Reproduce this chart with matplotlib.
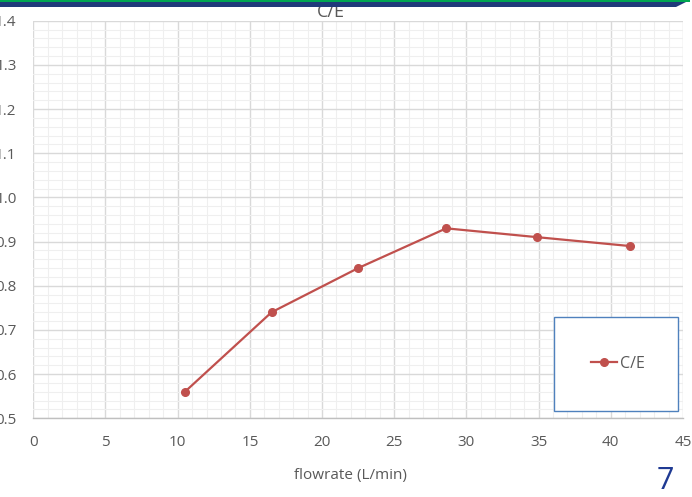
import matplotlib
matplotlib.use("Agg")
import matplotlib.pyplot as plt
from matplotlib.patches import Rectangle, Polygon
from matplotlib.ticker import MultipleLocator

flowrate = [10.5, 16.5, 22.5, 28.6, 34.9, 41.3]
ce = [0.56, 0.74, 0.84, 0.93, 0.91, 0.89]
series_name = "C/E"
x_label = "flowrate (L/min)"
title = "C/E"
page_number = "7"

W, H = 692, 497
fig = plt.figure(figsize=(W / 100, H / 100), dpi=100)
plt.rcParams['font.family'] = ['Open Sans', 'DejaVu Sans']

ax = fig.add_axes([33.3 / W, 1 - 418.3 / H, (683 - 33.3) / W, (418.3 - 20.7) / H])
ax.set_xlim(0, 45)
ax.set_ylim(0.5, 1.4)
ax.xaxis.set_major_locator(MultipleLocator(5))
ax.xaxis.set_minor_locator(MultipleLocator(1))
ax.yaxis.set_major_locator(MultipleLocator(0.1))
ax.yaxis.set_minor_locator(MultipleLocator(0.02))
ax.grid(which='major', color='#D9D9D9', linewidth=1.0)
ax.grid(which='minor', color='#EFEFEF', linewidth=0.8)
ax.set_axisbelow(True)
for s in ['top', 'right', 'left']:
    ax.spines[s].set_visible(False)
ax.spines['bottom'].set_color('#BFBFBF')
ax.spines['bottom'].set_linewidth(1.0)
ax.tick_params(which='both', length=0)
ax.tick_params(axis='x', pad=12, labelsize=11, labelcolor='#595959')
ax.tick_params(axis='y', pad=12, labelsize=11, labelcolor='#595959')
ax.yaxis.set_major_formatter(matplotlib.ticker.FormatStrFormatter('%.1f'))

line, = ax.plot(flowrate, ce, color='#C0504D', linewidth=1.6, marker='o',
                markersize=5.5, label=series_name, zorder=3)

fig.text(350 / W, 1 - 475 / H, x_label, ha='center', va='center', fontsize=11,
         color='#595959')

fig.text(331 / W, 1 - 12 / H, title, ha='center', va='center', fontsize=13,
         color='#595959')

# legend box
box = Rectangle((554 / W, 1 - 411 / H), (678 - 554) / W, (411 - 317) / H,
                transform=fig.transFigure, facecolor='white', edgecolor='#4F81BD',
                linewidth=1.0, zorder=5)
fig.patches.append(box)
leg = fig.legend(handles=[line], loc='center', bbox_to_anchor=(618 / W, 1 - 364 / H),
                 frameon=False, fontsize=11.5, handlelength=1.6, handletextpad=0.2,
                 labelcolor='#595959')
leg.set_zorder(6)

# top banner
banner = Polygon([(0, 1), (690 / W, 1), (676 / W, 1 - 7 / H), (0, 1 - 7 / H)],
                 closed=True, transform=fig.transFigure, facecolor='#1F3A7A',
                 edgecolor='none', zorder=10)
fig.patches.append(banner)
green = Rectangle((0, 1 - 1.5 / H), 690 / W, 1.5 / H, transform=fig.transFigure,
                  facecolor='#00A651', edgecolor='none', zorder=11)
fig.patches.append(green)

fig.text(665 / W, 1 - 481 / H, page_number, ha='center', va='center', fontsize=22,
         color='#1F3A93')

fig.savefig('out.png', dpi=100)
